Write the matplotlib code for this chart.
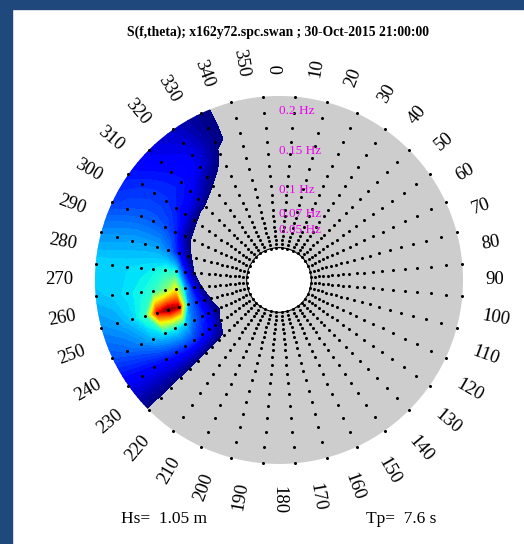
import numpy as np
import matplotlib
matplotlib.use('Agg')
import matplotlib.pyplot as plt
from matplotlib.patches import Rectangle

plt.rcParams['font.family'] = ['Liberation Serif', 'DejaVu Serif']

# spectrum grid
freqs = np.array([0.0277, 0.0324, 0.0375, 0.0429, 0.0484, 0.0542, 0.061, 0.0677,
                  0.0757, 0.085, 0.0946, 0.1055, 0.1178, 0.1311, 0.1459, 0.1614,
                  0.1787, 0.1976, 0.2187])
dirs = np.arange(5, 360, 10)

# relative energy per direction (columns = freqs), other directions are zero
e_225 = [0, 0, 0, 0, 0, 0, 0, 0, 0, 0.012, 0.012, 0.012, 0.012, 0.012, 0.012, 0.012, 0.012, 0.012, 0.012]
e_235 = [0, 0, 0, 0, 0, 0, 0, 0, 0.012, 0.08, 0.14, 0.17, 0.20, 0.20, 0.18, 0.16, 0.14, 0.13, 0.12]
e_245 = [0, 0, 0, 0, 0, 0, 0, 0.01, 0.04, 0.12, 0.18, 0.24, 0.34, 0.38, 0.36, 0.32, 0.27, 0.24, 0.22]
e_255 = [0, 0, 0, 0, 0, 0, 0, 0, 0.015, 0.08, 0.18, 0.28, 0.95, 1.00, 0.90, 0.42, 0.34, 0.30, 0.28]
e_265 = [0, 0, 0, 0, 0, 0, 0, 0, 0, 0.02, 0.12, 0.30, 0.65, 0.50, 0.42, 0.38, 0.36, 0.34, 0.33]
e_275 = [0, 0, 0, 0, 0, 0, 0, 0, 0, 0, 0.02, 0.15, 0.38, 0.40, 0.37, 0.36, 0.35, 0.35, 0.35]
e_285 = [0, 0, 0, 0, 0, 0, 0, 0, 0, 0, 0.005, 0.03, 0.15, 0.26, 0.30, 0.30, 0.30, 0.29, 0.28]
e_295 = [0, 0, 0, 0, 0, 0, 0, 0, 0, 0, 0, 0.005, 0.05, 0.18, 0.22, 0.23, 0.23, 0.22, 0.20]
e_305 = [0, 0, 0, 0, 0, 0, 0, 0, 0, 0, 0, 0, 0.03, 0.12, 0.17, 0.19, 0.19, 0.18, 0.16]
e_315 = [0, 0, 0, 0, 0, 0, 0, 0, 0, 0, 0, 0, 0.012, 0.08, 0.14, 0.16, 0.15, 0.13, 0.11]
e_325 = [0, 0, 0, 0, 0, 0, 0, 0, 0, 0, 0, 0, 0, 0.015, 0.05, 0.11, 0.12, 0.10, 0.08]
e_335 = [0, 0, 0, 0, 0, 0, 0, 0, 0, 0, 0, 0, 0, 0, 0, 0.012, 0.03, 0.03, 0.028]

rows = {225: e_225, 235: e_235, 245: e_245, 255: e_255, 265: e_265, 275: e_275,
        285: e_285, 295: e_295, 305: e_305, 315: e_315, 325: e_325, 335: e_335}

freq_ticks = [0.05, 0.07, 0.1, 0.15, 0.2]
angle_labels = np.arange(0, 360, 10)
hs = 1.05
tp = 7.6
title = 'S(f,theta); x162y72.spc.swan ; 30-Oct-2015 21:00:00'

E = np.zeros((len(freqs), len(dirs)))
for d, row in rows.items():
    E[:, list(dirs).index(d)] = row

fig = plt.figure(figsize=(5.24, 5.44), dpi=100)
fig.patch.set_facecolor('white')

# dark blue frame on top / left
fig.patches.append(Rectangle((0, 1 - 9 / 544), 1, 9 / 544, transform=fig.transFigure,
                             color='#1F497D', zorder=0))
fig.patches.append(Rectangle((0, 0), 12 / 524, 1, transform=fig.transFigure,
                             color='#1F497D', zorder=0))

ax = fig.add_axes([0.1813, 0.1471, 0.7023, 0.6765], projection='polar')
ax.set_theta_zero_location('N')
ax.set_theta_direction(-1)
ax.set_facecolor('#cdcdcd')
ax.set_rorigin(-0.013)
ax.set_ylim(freqs[0], freqs[-1])

th = np.deg2rad(dirs)
levels = np.linspace(0.02, 1.0, 60)
ax.contourf(th, freqs, E, levels=levels, cmap='jet', vmin=0.02, vmax=1.0, zorder=1)

TH, FF = np.meshgrid(th, freqs)
ax.plot(TH.ravel(), FF.ravel(), 'o', color='black', ms=2.2, mew=0, clip_on=False, zorder=3)

for f in freq_ticks:
    ax.text(0, f, '%g Hz' % f, color='#ee00ee', fontsize=9.5, ha='left', va='center', zorder=4)

r_lab = 0.2464
for a in angle_labels:
    if a <= 180:
        rot = 90 - a
        ha = 'left'
    else:
        rot = 270 - a
        ha = 'right'
    ax.text(np.deg2rad(a), r_lab, str(a), fontsize=13.5, rotation=rot, ha=ha, va='center',
            rotation_mode='anchor')

ax.set_xticks([])
ax.set_yticks([])
ax.grid(False)
for s in ax.spines.values():
    s.set_visible(False)

fig.text(0.5296, 0.941, title, fontsize=9.8, fontweight='bold', ha='center', va='center')
fig.text(0.231, 0.046, 'Hs=  %.2f m' % hs, fontsize=12.5, ha='left', va='center')
fig.text(0.698, 0.046, 'Tp=  %.1f s' % tp, fontsize=12.5, ha='left', va='center')

fig.savefig('out.png', dpi=100)
